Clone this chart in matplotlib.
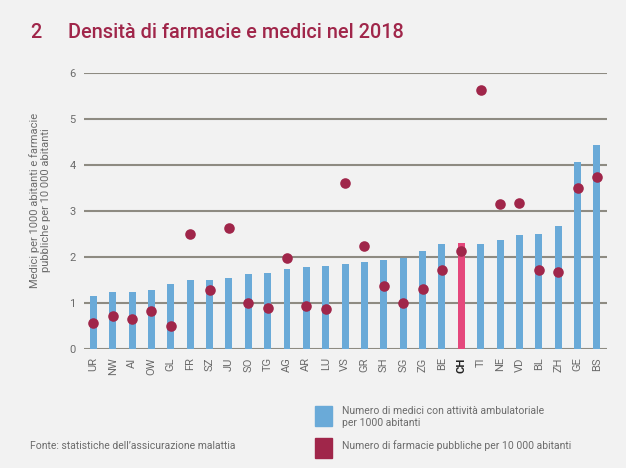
import numpy as np
import matplotlib
matplotlib.use("Agg")
import matplotlib.pyplot as plt
import matplotlib.patches as mpatches

plt.rcParams['font.family'] = ['Roboto', 'DejaVu Sans']

cantons = ["UR", "NW", "AI", "OW", "GL", "FR", "SZ", "JU", "SO", "TG", "AG", "AR", "LU", "VS",
           "GR", "SH", "SG", "ZG", "BE", "CH", "TI", "NE", "VD", "BL", "ZH", "GE", "BS"]
medici = [1.15, 1.25, 1.25, 1.28, 1.41, 1.49, 1.50, 1.54, 1.64, 1.66, 1.74, 1.78, 1.81, 1.84,
          1.90, 1.94, 1.98, 2.13, 2.28, 2.30, 2.29, 2.38, 2.47, 2.49, 2.67, 4.07, 4.44]
farmacie = [0.57, 0.72, 0.65, 0.82, 0.51, 2.49, 1.29, 2.62, 1.01, 0.89, 1.97, 0.93, 0.88, 3.60,
            2.25, 1.37, 1.01, 1.30, 1.71, 2.13, 5.62, 3.16, 3.17, 1.72, 1.67, 3.49, 3.75]
yticks = [0, 1, 2, 3, 4, 5, 6]

BG = "#f2f2f2"
BLUE = "#6aaad8"
PINK = "#e5487c"
RED = "#a0264a"
GRID = "#8e8b82"
TXT = "#6b6b6b"

fig = plt.figure(figsize=(6.26, 4.68), dpi=100, facecolor=BG)
ax = fig.add_axes([84 / 626, 1 - 349 / 468, (607 - 84) / 626, (349 - 73) / 468])
ax.set_facecolor(BG)

x = np.arange(len(cantons))
colors = [PINK if c == "CH" else BLUE for c in cantons]
for y in yticks:
    ax.axhline(y, color=GRID, lw=1.5, zorder=1)
ax.bar(x, medici, width=0.36, color=colors, zorder=2)
ax.scatter(x, farmacie, s=58, color=RED, zorder=3, linewidths=0)

ax.set_xlim(-0.48, 26.52)
ax.set_ylim(0, 6)
ax.set_yticks(yticks)
ax.set_xticks(x)
ax.set_xticklabels(cantons, rotation=90)
ax.tick_params(length=0, labelsize=8, colors=TXT, pad=6)
for lab in ax.get_xticklabels():
    if lab.get_text() == "CH":
        lab.set_fontweight("bold")
        lab.set_color("#222222")
for s in ax.spines.values():
    s.set_visible(False)

fig.text(40 / 626, 1 - 200 / 468, "Medici per 1000 abitanti e farmacie\npubbliche per 10 000 abitanti",
         rotation=90, ha="center", va="center", fontsize=8, color=TXT, linespacing=1.1)

# title
fig.text(30 / 626, 1 - 33 / 468, "2", fontsize=14.3, color=RED, fontweight="medium", va="center")
fig.text(68 / 626, 1 - 33 / 468, "Densità di farmacie e medici nel 2018", fontsize=14.3,
         color=RED, fontweight="medium", va="center")

# legend
fig.add_artist(mpatches.Rectangle((315 / 626, 1 - 426 / 468), 17 / 626, 20 / 468,
                                  transform=fig.transFigure, color=BLUE))
fig.add_artist(mpatches.Rectangle((315 / 626, 1 - 458 / 468), 17 / 626, 20 / 468,
                                  transform=fig.transFigure, color=RED))
fig.text(342 / 626, 1 - 417 / 468, "Numero di medici con attività ambulatoriale\nper 1000 abitanti",
         fontsize=7.5, color=TXT, va="center", linespacing=1.3)
fig.text(342 / 626, 1 - 446 / 468, "Numero di farmacie pubbliche per 10 000 abitanti",
         fontsize=7.5, color=TXT, va="center")
fig.text(30 / 626, 1 - 446 / 468, "Fonte: statistiche dell’assicurazione malattia",
         fontsize=7.5, color=TXT, va="center")

fig.savefig("out.png", dpi=100, facecolor=BG)
